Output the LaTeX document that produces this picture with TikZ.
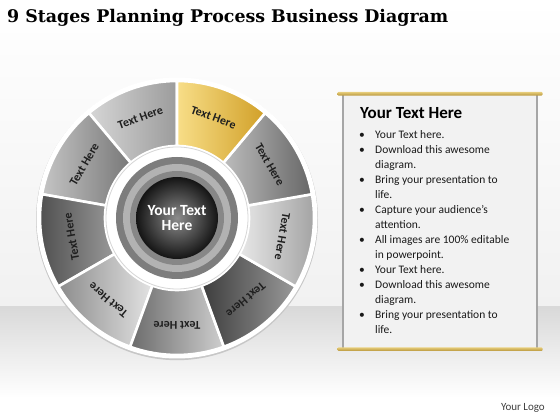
\documentclass[tikz,border=0pt]{standalone}
\usepackage{fontspec}
\setmainfont{Carlito}
\newfontfamily\titlefont{DejaVu Serif}
\usepackage{xcolor}
\usepackage{tikz}
\usetikzlibrary{positioning}

\definecolor{bgupper}{HTML}{F1F1F1}
\definecolor{bgband}{HTML}{D9D9D9}
\definecolor{goldA}{HTML}{F8DE88}
\definecolor{goldB}{HTML}{D1A028}
\definecolor{barA}{HTML}{E6CC7A}
\definecolor{barB}{HTML}{B8963A}
\definecolor{panelbg}{HTML}{F2F2F2}
\definecolor{panelside}{HTML}{A6A6A6}

\begin{document}
\begin{tikzpicture}[x=1pt, y=1pt, line join=round]
\tikzstyle{seg}=[draw=white, line width=2.6pt]
\tikzstyle{seglabel}=[font=\bfseries\fontsize{12}{14}\selectfont, text=black!88, inner sep=0pt]
\tikzstyle{hub}=[circle, minimum size=82pt, inner sep=0pt, inner color=black!45,
                 outer color=black!92, text=white, align=center,
                 font=\bfseries\fontsize{15.5}{19}\selectfont]
\tikzstyle{goldbar}=[rectangle, minimum width=205pt, minimum height=3.6pt, inner sep=0pt,
                 top color=barA, bottom color=barB, rounded corners=1pt]
  \useasboundingbox (0,0) rectangle (560,420);
  % background
  \shade[top color=white, bottom color=bgupper] (0,113) rectangle (560,420);
  \shade[top color=bgband, bottom color=white] (0,22) rectangle (560,113);
  \fill[white] (0,0) rectangle (560,22);
  \node[anchor=base west, inner sep=0pt, font=\titlefont\bfseries\fontsize{17.4}{20}\selectfont]
       (title) at (7,397) {9 Stages Planning Process Business Diagram};
  % wheel
  \begin{scope}[shift={(177,202)}]
  \fill[black!22] (0,-1.2) circle[radius=141pt];
  \fill[white] (0,0) circle[radius=140.5pt];
  \shadedraw[seg, left color=black!16, right color=black!39]
    (90:72) arc[start angle=90, end angle=130, radius=72pt] -- (130:137) arc[start angle=130, end angle=90, radius=137pt] -- cycle;
  \shadedraw[seg, left color=black!23, right color=black!53]
    (130:72) arc[start angle=130, end angle=170, radius=72pt] -- (170:137) arc[start angle=170, end angle=130, radius=137pt] -- cycle;
  \shadedraw[seg, left color=black!70, right color=black!40]
    (170:72) arc[start angle=170, end angle=210, radius=72pt] -- (210:137) arc[start angle=210, end angle=170, radius=137pt] -- cycle;
  \shadedraw[seg, left color=black!45, right color=black!11]
    (210:72) arc[start angle=210, end angle=250, radius=72pt] -- (250:137) arc[start angle=250, end angle=210, radius=137pt] -- cycle;
  \shadedraw[seg, left color=black!58, right color=black!19]
    (250:72) arc[start angle=250, end angle=290, radius=72pt] -- (290:137) arc[start angle=290, end angle=250, radius=137pt] -- cycle;
  \shadedraw[seg, left color=black!76, right color=black!40]
    (290:72) arc[start angle=290, end angle=330, radius=72pt] -- (330:137) arc[start angle=330, end angle=290, radius=137pt] -- cycle;
  \shadedraw[seg, left color=black!9, right color=black!37]
    (330:72) arc[start angle=330, end angle=370, radius=72pt] -- (370:137) arc[start angle=370, end angle=330, radius=137pt] -- cycle;
  \shadedraw[seg, left color=black!26, right color=black!60]
    (10:72) arc[start angle=10, end angle=50, radius=72pt] -- (50:137) arc[start angle=50, end angle=10, radius=137pt] -- cycle;
  \shadedraw[seg, left color=goldA, right color=goldB]
    (50:72) arc[start angle=50, end angle=90, radius=72pt] -- (90:137) arc[start angle=90, end angle=50, radius=137pt] -- cycle;
  \node[seglabel, rotate=20]  (s1) at (110:107) {Text Here};
  \node[seglabel, rotate=60]  (s2) at (150:107) {Text Here};
  \node[seglabel, rotate=100] (s3) at (190:107) {Text Here};
  \node[seglabel, rotate=140] (s4) at (230:107) {Text Here};
  \node[seglabel, rotate=180] (s5) at (270:107) {Text Here};
  \node[seglabel, rotate=220] (s6) at (310:107) {Text Here};
  \node[seglabel, rotate=260] (s7) at (350:107) {Text Here};
  \node[seglabel, rotate=-60] (s8) at (30:107)  {Text Here};
  \node[seglabel, rotate=-20] (s9) at (70:107)  {Text Here};
  % hub rings
  \fill[white] (0,0) circle[radius=71pt];
  \draw[black!16, line width=0.8pt] (0,0) circle[radius=71pt];
  \fill[black!51] (0,0) circle[radius=61pt];
  \fill[black!30] (0,0) circle[radius=54pt];
  \fill[black!47] (0,0) circle[radius=47pt];
  \node[hub] (hub) at (0,0) {\raisebox{-3pt}{\shortstack{Your Text\\[1pt]Here}}};
  \end{scope}
  % text card
  \node[rectangle, minimum width=194pt, minimum height=255pt, inner sep=0pt, fill=panelbg]
       (card) at (440,198.5) {};
  \draw[panelside, line width=2pt] (card.north west) -- (card.south west);
  \draw[panelside, line width=2pt] (card.north east) -- (card.south east);
  \node[goldbar] (bartop) at (card.north) {};
  \node[goldbar] (barbot) at (card.south) {};
  \node[anchor=base west, inner sep=0pt, font=\bfseries\fontsize{17}{20}\selectfont]
       (cardtitle) at (360,301) {Your Text Here};
  \node[anchor=base west, inner sep=0pt, font=\fontsize{11.5}{15}\selectfont, text=black!90]
       (cardlist) at (359,281) {\begin{tabular}[t]{@{}p{16pt}@{}l@{}}
    \textbullet & Your Text here.\\
    \textbullet & Download this awesome\\
                & diagram.\\
    \textbullet & Bring your presentation to\\
                & life.\\
    \textbullet & Capture your audience’s\\
                & attention.\\
    \textbullet & All images are 100\% editable\\
                & in powerpoint.\\
    \textbullet & Your Text here.\\
    \textbullet & Download this awesome\\
                & diagram.\\
    \textbullet & Bring your presentation to\\
                & life.
  \end{tabular}};
  \node[anchor=base east, inner sep=0pt, font=\fontsize{11}{13}\selectfont, text=black!75]
       (logo) at (545,9) {Your Logo};
\end{tikzpicture}
\end{document}
